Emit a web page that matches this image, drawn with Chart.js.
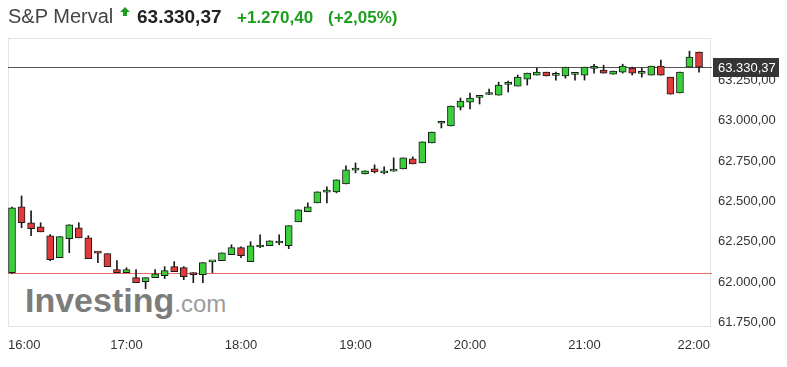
<!DOCTYPE html>
<html>
<head>
<meta charset="utf-8">
<script src="https://cdn.jsdelivr.net/npm/chart.js@4.4.1/dist/chart.umd.min.js"></script>
<style>
  body { margin: 0; background: #fff; font-family: 'Liberation Sans', Arial, sans-serif; }
  .wrap { position: relative; width: 787px; height: 367px; overflow: hidden; }
  .hd { position: absolute; line-height: 1; white-space: nowrap; }
  #chart { position: absolute; left: 0; top: 0; }
  .logo { position: absolute; left: 25px; top: 283px; font-size: 34px; font-weight: bold; color: #7c7c7c; line-height: 1; white-space: nowrap; }
  .logo span { font-size: 24px; font-weight: normal; color: #9c9c9c; }
</style>
</head>
<body>
<div class="wrap">
  <div class="logo">Investing<span>.com</span></div>
  <canvas id="chart" width="787" height="367"></canvas>
  <div class="hd" id="name" style="left:8px;top:6px;font-size:20px;color:#444"></div>
  <svg style="position:absolute;left:120px;top:7px" width="10" height="9" viewBox="0 0 10 9">
    <polygon points="5,0 10,5 7,5 7,9 3,9 3,5 0,5" fill="#1e9e1e"/>
  </svg>
  <div class="hd" id="last" style="left:137px;top:7px;font-size:19px;font-weight:bold;color:#222"></div>
  <div class="hd" id="chg" style="left:237px;top:9px;font-size:17px;font-weight:bold;color:#1e9e1e"></div>
  <div class="hd" id="pct" style="left:328px;top:9px;font-size:17px;font-weight:bold;color:#1e9e1e"></div>
</div>
<script>
const INDEX_NAME = 'S&P Merval';
const LAST_PRICE = 63330.37;
const PREV_CLOSE = 62059.97;
const CHANGE = 1270.40;
const CHANGE_PCT = 2.05;

// 5 minute candles, 16:00 .. 22:00 (index 0 = 16:00)
const hourLabels = ['16:00', '17:00', '18:00', '19:00', '20:00', '21:00', '22:00'];
const yTicks = [61750, 62000, 62250, 62500, 62750, 63000, 63250];

const opens = [62060, 62467, 62368, 62343, 62288, 62152, 62269, 62337, 62275, 62185,
  62177, 62078, 62060, 62029, 62004, 62029, 62041, 62097, 62091, 62052,
  62047, 62126, 62134, 62171, 62214, 62128, 62218, 62226, 62243, 62226,
  62374, 62436, 62491, 62557, 62559, 62608, 62693, 62670, 62701, 62676,
  62687, 62701, 62763, 62738, 62861, 62983, 62966, 63083, 63114, 63143,
  63161, 63157, 63223, 63213, 63256, 63281, 63299, 63279, 63275, 63285,
  63281, 63322, 63312, 63287, 63299, 63324, 63291, 63281, 63336, 63268,
  63170, 63330, 63423];
const highs = [62465, 62534, 62442, 62368, 62295, 62282, 62356, 62368, 62288, 62187,
  62177, 62134, 62090, 62078, 62029, 62078, 62097, 62128, 62097, 62060,
  62122, 62130, 62183, 62232, 62220, 62251, 62294, 62257, 62294, 62350,
  62448, 62491, 62559, 62590, 62633, 62720, 62738, 62689, 62726, 62713,
  62769, 62769, 62775, 62868, 62929, 62991, 63089, 63139, 63170, 63151,
  63194, 63237, 63244, 63281, 63293, 63324, 63299, 63299, 63330, 63293,
  63330, 63348, 63342, 63305, 63348, 63330, 63324, 63336, 63373, 63268,
  63299, 63429, 63423];
const lows = [62055, 62337, 62288, 62312, 62134, 62152, 62183, 62275, 62146, 62121,
  62097, 62060, 62060, 61998, 61960, 62029, 62023, 62066, 62016, 61998,
  61998, 62060, 62134, 62171, 62152, 62128, 62214, 62226, 62232, 62208,
  62374, 62436, 62491, 62491, 62553, 62608, 62676, 62670, 62676, 62670,
  62686, 62701, 62732, 62738, 62861, 62954, 62966, 63065, 63071, 63102,
  63160, 63157, 63176, 63213, 63219, 63281, 63275, 63250, 63262, 63250,
  63250, 63293, 63293, 63287, 63293, 63281, 63268, 63281, 63281, 63163,
  63170, 63330, 63299];
const closes = [62460, 62368, 62331, 62312, 62140, 62282, 62356, 62275, 62146, 62180,
  62097, 62060, 62078, 61998, 62029, 62053, 62072, 62066, 62035, 62048,
  62122, 62130, 62183, 62214, 62165, 62226, 62222, 62257, 62247, 62350,
  62448, 62466, 62559, 62561, 62633, 62695, 62697, 62689, 62682, 62689,
  62691, 62769, 62732, 62868, 62929, 62987, 63089, 63120, 63139, 63147,
  63165, 63219, 63227, 63268, 63293, 63299, 63275, 63283, 63330, 63289,
  63330, 63326, 63293, 63305, 63336, 63293, 63295, 63336, 63281, 63163,
  63299, 63392, 63330.37];

const X_MIN = -0.42;
const X_MAX = 73.15;

function fmt(v) {
  // 63250 -> "63.250,00"
  const parts = v.toFixed(2).split('.');
  return parts[0].replace(/\B(?=(\d{3})+(?!\d))/g, '.') + ',' + parts[1];
}

document.getElementById('name').textContent = INDEX_NAME;
document.getElementById('last').textContent = fmt(LAST_PRICE);
document.getElementById('chg').textContent = '+' + fmt(CHANGE);
document.getElementById('pct').textContent = '(+' + CHANGE_PCT.toFixed(2).replace('.', ',') + '%)';

const bodies = opens.map((o, i) => ({x: i, y: [o, closes[i]]}));
const wicks = lows.map((l, i) => ({x: i, y: [l, highs[i]]}));
const bodyColors = opens.map((o, i) => closes[i] >= o ? '#3ccf3c' : '#e03a3a');

function hLine(ctx, a, py, color) {
  ctx.fillStyle = color;
  ctx.fillRect(a.left, py, a.right + 2 - a.left, 1);
}

const chartDecor = {
  id: 'chartDecor',
  beforeDraw(chart) {
    const {ctx, chartArea: a} = chart;
    ctx.save();
    ctx.strokeStyle = '#e2e2e2';
    ctx.lineWidth = 1;
    ctx.strokeRect(a.left + 0.5, a.top + 0.5, a.right - a.left, a.bottom - a.top);
    ctx.restore();
  },
  beforeDatasetsDraw(chart) {
    const {ctx, chartArea: a, scales: {y}} = chart;
    ctx.save();
    hLine(ctx, a, Math.round(y.getPixelForValue(PREV_CLOSE)), '#e66a6a');
    hLine(ctx, a, Math.round(y.getPixelForValue(LAST_PRICE)), '#555555');
    ctx.restore();
  },
  afterDraw(chart) {
    // price tag on the right axis
    const {ctx, chartArea: a, scales: {y}} = chart;
    const py = Math.round(y.getPixelForValue(LAST_PRICE));
    ctx.save();
    ctx.fillStyle = '#353535';
    ctx.fillRect(a.right + 3, py - 9, 66, 19);
    ctx.fillStyle = '#fff';
    ctx.font = '13px "Liberation Sans", Arial, sans-serif';
    ctx.textBaseline = 'middle';
    ctx.fillText(fmt(LAST_PRICE), a.right + 8, py + 1);
    ctx.restore();
  }
};

new Chart(document.getElementById('chart'), {
  type: 'bar',
  data: {
    datasets: [{
      label: 'body',
      data: bodies,
      backgroundColor: bodyColors,
      borderColor: '#1a1a1a',
      borderWidth: 1,
      borderSkipped: false,
      barThickness: 7,
      minBarLength: 2,
      grouped: false,
      order: 0
    }, {
      label: 'wick',
      data: wicks,
      backgroundColor: '#1a1a1a',
      borderWidth: 0,
      barThickness: 1,
      grouped: false,
      order: 1
    }]
  },
  options: {
    responsive: false,
    animation: false,
    layout: {padding: {left: 8, top: 38, right: 0, bottom: 13}},
    plugins: {legend: {display: false}, tooltip: {enabled: false}},
    scales: {
      x: {
        type: 'linear',
        min: X_MIN,
        max: X_MAX,
        offset: false,
        grid: {display: false, drawTicks: false},
        border: {display: false},
        afterBuildTicks: axis => {
          axis.ticks = [X_MIN, 12, 24, 36, 48, 60, X_MAX].map(v => ({value: v}));
        },
        afterFit: axis => {
          axis.height = 28;
          axis.paddingLeft = 0;
          axis.paddingRight = 0;
        },
        ticks: {
          autoSkip: false,
          maxRotation: 0,
          align: 'inner',
          padding: 12,
          color: '#333',
          font: {family: '"Liberation Sans", Arial, sans-serif', size: 13},
          callback: (v, i) => hourLabels[i]
        }
      },
      y: {
        position: 'right',
        min: 61730,
        max: 63510,
        grid: {display: false, drawTicks: false},
        border: {display: false},
        afterBuildTicks: axis => {
          axis.ticks = yTicks.map(v => ({value: v}));
        },
        afterFit: axis => { axis.width = 77; },
        ticks: {
          padding: 8,
          color: '#333',
          font: {family: '"Liberation Sans", Arial, sans-serif', size: 13},
          callback: v => fmt(v)
        }
      }
    }
  },
  plugins: [chartDecor]
});
</script>
</body>
</html>
